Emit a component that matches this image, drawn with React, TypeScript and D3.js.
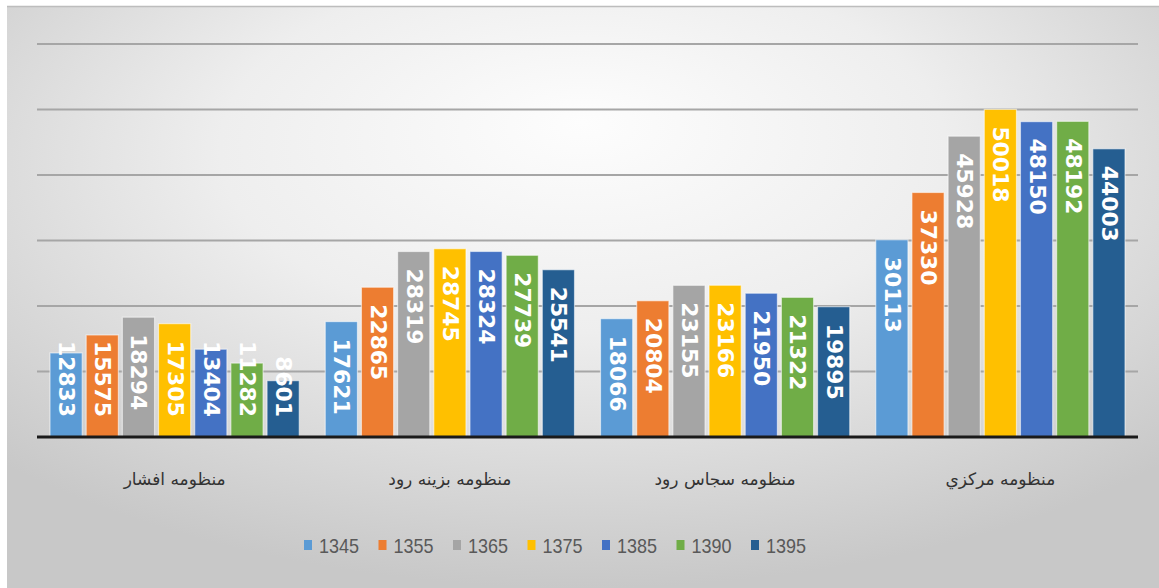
import React from "react";
import * as d3 from "d3";

const categories = ["منظومه افشار", "منظومه بزینه رود", "منظومه سجاس رود", "منظومه مرکزي"];
const years = ["1345", "1355", "1365", "1375", "1385", "1390", "1395"];
const v1345 = [12833, 17621, 18066, 30113];
const v1355 = [15575, 22865, 20804, 37330];
const v1365 = [18294, 28319, 23155, 45928];
const v1375 = [17305, 28745, 23166, 50018];
const v1385 = [13404, 28324, 21950, 48150];
const v1390 = [11282, 27739, 21322, 48192];
const v1395 = [8601, 25541, 19895, 44003];
const seriesValues = [v1345, v1355, v1365, v1375, v1385, v1390, v1395];
const yTicks = [10000, 20000, 30000, 40000, 50000, 60000];
const colors = ["#5B9BD5", "#ED7D31", "#A5A5A5", "#FFC000", "#4472C4", "#70AD47", "#255E91"];

const W = 1159;
const H = 588;
const plotLeft = 37;
const plotRight = 1138;
const base = 437;
const top = 44;

export default function App() {
  const x0 = d3.scaleBand<string>().domain(categories).range([plotLeft, plotRight]).padding(0);
  const x1 = d3.scaleBand<string>().domain(years).range([13, x0.bandwidth() - 13]).paddingInner(0.11);
  const y = d3.scaleLinear().domain([0, 60000]).range([base, top]);
  const labelFont = 21;
  const digitW = 15.2;

  const legendStart = 304;
  const legendStep = 74.5;

  return (
    <svg width={W} height={H} style={{ position: "absolute", left: 0, top: 0 }}>
      <defs>
        <radialGradient id="bg" cx="50%" cy="30%" r="70%" fx="50%" fy="20%">
          <stop offset="0%" stopColor="#fdfdfd" />
          <stop offset="45%" stopColor="#eeeeee" />
          <stop offset="100%" stopColor="#c8c8c8" />
        </radialGradient>
      </defs>
      <rect x={0} y={0} width={W} height={H} fill="#ffffff" />
      <rect x={7} y={6} width={W - 7} height={H - 6} fill="url(#bg)" />
      <line x1={7} x2={W} y1={6.5} y2={6.5} stroke="#bdbdbd" strokeWidth={1.5} />
      {yTicks.map((t) => (
        <line key={t} x1={plotLeft} x2={plotRight} y1={y(t)} y2={y(t)} stroke="#a6a6a6" strokeWidth={2} />
      ))}
      {categories.map((c, ci) => (
        <g key={c} transform={`translate(${x0(c)},0)`}>
          {years.map((yr, si) => {
            const v = seriesValues[si][ci];
            const bx = x1(yr)!;
            const bw = x1.bandwidth();
            const by = y(v);
            const label = String(v);
            const len = label.length * digitW;
            const ts = Math.min(by + 17, base - 20 - len);
            return (
              <g key={yr}>
                <rect x={bx} y={by} width={bw} height={base - by} fill={colors[si]} stroke="rgba(255,255,255,0.55)" strokeWidth={1.2} />
                <text
                  transform={`translate(${bx + bw / 2},${ts}) rotate(90)`}
                  fontFamily="DejaVu Sans"
                  fontWeight="bold"
                  fontSize={labelFont}
                  fill="#ffffff"
                  dominantBaseline="central"
                  textAnchor="start"
                  textLength={len}
                  lengthAdjust="spacingAndGlyphs"
                >
                  {label}
                </text>
              </g>
            );
          })}
          <text
            x={x0.bandwidth() / 2}
            y={485}
            textAnchor="middle"
            fontFamily="DejaVu Sans"
            fontSize={17}
            fill="#333333"
            direction="rtl"
          >
            {c}
          </text>
        </g>
      ))}
      <line x1={plotLeft} x2={plotRight} y1={base} y2={base} stroke="#1a1a1a" strokeWidth={3} />
      {years.map((yr, i) => (
        <g key={yr} transform={`translate(${legendStart + i * legendStep},0)`}>
          <rect x={0} y={540} width={8} height={10} fill={colors[i]} />
          <text
            x={15}
            y={553}
            fontFamily="Liberation Sans"
            fontSize={21}
            fill="#595959"
            textLength={40}
            lengthAdjust="spacingAndGlyphs"
          >
            {yr}
          </text>
        </g>
      ))}
    </svg>
  );
}
